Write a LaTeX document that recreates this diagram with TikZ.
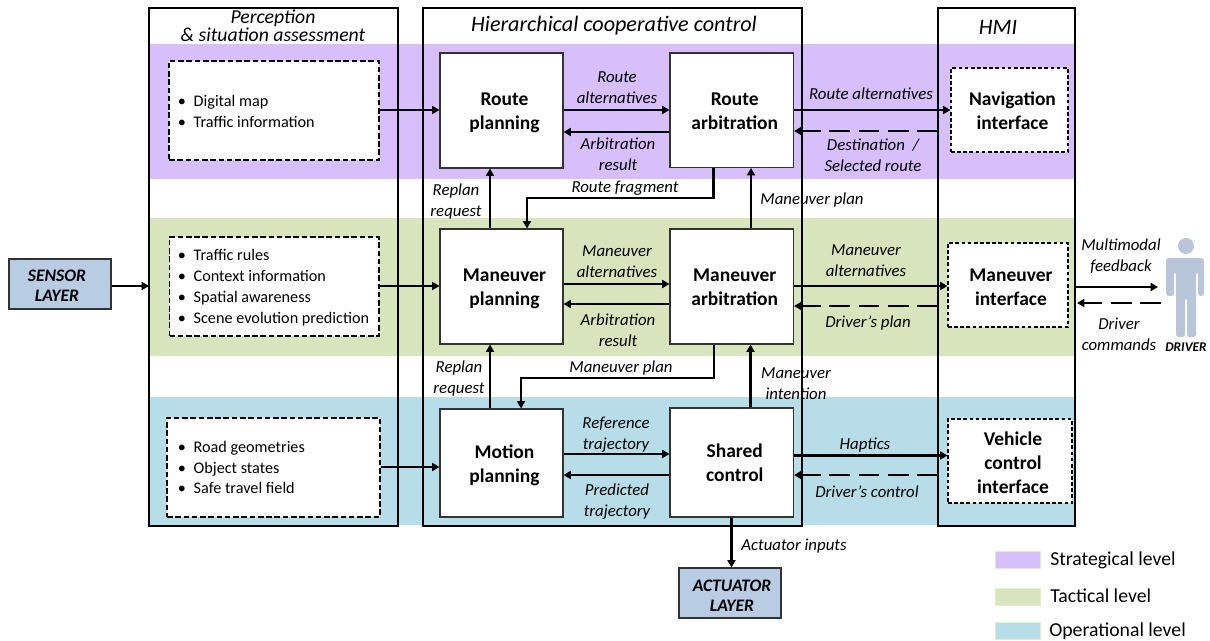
\documentclass[tikz,border=0pt]{standalone}
\usepackage{fontspec}
\setmainfont{Carlito}
\usetikzlibrary{arrows.meta}
\definecolor{purp}{HTML}{D7BFFB}
\definecolor{gree}{HTML}{D8E4BC}
\definecolor{blu}{HTML}{B7DDE8}
\definecolor{lay}{HTML}{B8CCE4}
\definecolor{drv}{HTML}{B9C5D9}
\tikzset{
 x=0.75pt,y=-0.75pt,
 band/.style={fill=#1,draw=none},
 panel/.style={draw=black,line width=1.5pt},
 solidbox/.style={draw=black!80,fill=white,line width=0.8pt,font=\fontsize{14.6}{18}\selectfont\bfseries,inner sep=0pt},
 dashbox/.style={solidbox,draw=black,line width=0.85pt,dash pattern=on 4.2pt off 2pt},
 dashboxs/.style={solidbox,draw=black,line width=0.85pt,dash pattern=on 2.8pt off 1.8pt},
 layerbox/.style={draw=black!80,fill=lay,line width=0.8pt,font=\fontsize{13.2}{15}\selectfont\bfseries\itshape,inner sep=0pt},
 arr/.style={draw=black,line width=1.75pt,-{Triangle[length=5.5pt,width=6pt]}},
 darr/.style={arr,dash pattern=on 15.5pt off 6.5pt},
 lab/.style={font=\fontsize{12.6}{15.75}\selectfont\itshape,align=center,inner sep=0pt},
 lst/.style={font=\fontsize{12.15}{15.7}\selectfont,align=left,inner sep=0pt,anchor=west},
 title/.style={font=\fontsize{16.6}{16}\selectfont\itshape,align=center,inner sep=0pt},
 subtitle/.style={font=\fontsize{14.8}{12}\selectfont\itshape,align=center,inner sep=0pt},
 legend/.style={font=\fontsize{14.8}{15}\selectfont,anchor=west,inner sep=0pt},
 swatch/.style={fill=#1,draw=gree!70,line width=0.5pt},
}
\newcommand{\bx}[6]{\node[#1,minimum width=#4*0.75pt-#2*0.75pt,minimum height=#5*0.75pt-#3*0.75pt] (#6) at ({(#2+#4)/2},{(#3+#5)/2})}
\newcommand{\mv}[3]{\raisebox{\dimexpr-2.5pt-0.75pt*#2\relax}[0pt][0pt]{\hspace*{\dimexpr 1.5pt*#1\relax}\begin{tabular}{@{}c@{}}#3\end{tabular}}}
\newcommand{\itm}[1]{\makebox[11.2pt][l]{\hspace{-0.6pt}•}#1}
\begin{document}
\begin{tikzpicture}
\useasboundingbox (0,0) rectangle (1210,641);
% bands
\fill[band=purp] (150,44) rectangle (1074,179);
\fill[band=gree] (150,218) rectangle (1074,356);
\fill[band=blu] (150,397) rectangle (1074,525);
% perception
\bx{dashbox}{169}{61}{379}{160}{p1} {};
\bx{dashbox}{169.5}{237}{379}{336}{p2} {};
\bx{dashbox}{167}{418}{380}{517}{p3} {};
\node[lst] (l1) at (178.5,111.5) {\itm{Digital map}\\\itm{Traffic information}};
\node[lst] (l2) at (178.5,288) {\itm{Traffic rules}\\\itm{Context information}\\\itm{Spatial awareness}\\\itm{Scene evolution prediction}};
\node[lst] (l3) at (178.5,467.5) {\itm{Road geometries}\\\itm{Object states}\\\itm{Safe travel field}};
% control
\bx{solidbox}{440}{53}{563}{168}{rp} {\mv{3}{4}{Route\\planning}};
\bx{solidbox}{670}{53}{793.5}{167.5}{ra} {\mv{3}{4}{Route\\arbitration}};
\bx{solidbox}{440}{229}{563}{344}{mp} {\mv{3}{4}{Maneuver\\planning}};
\bx{solidbox}{670}{229}{793.5}{344}{ma} {\mv{3}{4}{Maneuver\\arbitration}};
\bx{solidbox}{440}{409}{563}{517}{op} {\mv{3}{4}{Motion\\planning}};
\bx{solidbox}{670}{408}{793.5}{517}{sc} {\mv{3}{4}{Shared\\control}};
% hmi
\bx{dashboxs}{951}{68}{1068}{152}{ni} {\mv{3}{4}{Navigation\\interface}};
\bx{dashboxs}{948}{243}{1068}{327}{mi} {\mv{3}{5}{Maneuver\\interface}};
\bx{dashboxs}{948}{419}{1072}{503}{vi} {\mv{3}{5}{Vehicle\\control\\interface}};
% layers
\bx{layerbox}{9}{259}{111}{309}{sl} {\mv{-3}{4}{SENSOR\\LAYER}};
\bx{layerbox}{679}{568}{781}{618}{al} {\mv{2}{5}{ACTUATOR\\LAYER}};
% driver
\node[circle,fill=drv,minimum size=12pt,inner sep=0pt] (dh) at (1186,246) {};
\fill[drv,rounded corners=2pt] (1166,258) -- (1204,258) -- (1204,296) -- (1198,296) -- (1198,272) -- (1196,272) -- (1196,337) -- (1187,337) -- (1187,298) -- (1185,298) -- (1185,337) -- (1176,337) -- (1176,272) -- (1174,272) -- (1174,296) -- (1166,296) -- cycle;
\node[inner sep=0pt,font=\fontsize{10}{11}\selectfont\bfseries\itshape] (dl) at (1186,347) {DRIVER};
% labels
\node[lab] (a1) at (617,87.5) {Route\\alternatives};
\node[lab] (a2) at (618,154.5) {Arbitration\\result};
\node[lab] (a3) at (871,94) {Route alternatives};
\node[lab] (a4) at (873,155.5) {Destination~~/\\Selected route};
\node[lab] (a5) at (456,201.5) {Replan\\request};
\node[lab] (a6) at (625,188) {Route fragment};
\node[lab] (a7) at (812,200) {Maneuver plan};
\node[lab] (b1) at (617,262) {Maneuver\\alternatives};
\node[lab] (b2) at (618,330.5) {Arbitration\\result};
\node[lab] (b3) at (866,261) {Maneuver\\alternatives};
\node[lab] (b4) at (868,323) {Driver's plan};
\node[lab] (b5) at (1121,256) {Multimodal\\feedback};
\node[lab] (b6) at (1119,334) {Driver\\commands};
\node[lab] (c5) at (459,379) {Replan\\request};
\node[lab] (c6) at (621,368) {Maneuver plan};
\node[lab] (c7) at (796,384) {Maneuver\\intention};
\node[lab] (d1) at (616,435) {Reference\\trajectory};
\node[lab] (d2) at (617,502) {Predicted\\trajectory};
\node[lab] (d3) at (865,445) {Haptics};
\node[lab] (d4) at (867,492) {Driver's control};
\node[lab] (e1) at (794,546) {Actuator inputs};
% titles
\node[subtitle] (t1) at (273,25.5) {Perception\\\& situation assessment};
\node[title] (t2) at (614,26) {Hierarchical cooperative control};
\node[title] (t3) at (998,27) {HMI};
% arrows
\coordinate (pl) at (149,286);
\coordinate (hl) at (938,0);
\coordinate (dr) at (1158,287);
\coordinate (hr) at (1075,287);
\coordinate (drb) at (1161,303);
\coordinate (hrb) at (1077,303);
\draw[arr] (sl.east |- pl) -- (pl);
\draw[arr] (p1.east |- 0,110) -- (rp.west |- 0,110);
\draw[arr] (p2.east |- 0,286) -- (mp.west |- 0,286);
\draw[arr] (p3.east |- 0,467) -- (op.west |- 0,467);
\draw[arr] (rp.east |- 0,110) -- (ra.west |- 0,110);
\draw[arr] (ra.west |- 0,132) -- (rp.east |- 0,132);
\draw[arr] (ra.east |- 0,110) -- (ni.west |- 0,110);
\draw[darr] (hl |- 0,131) -- (ra.east |- 0,131);
\draw[arr] (mp.east |- 0,284) -- (ma.west |- 0,284);
\draw[arr] (ma.west |- 0,304) -- (mp.east |- 0,304);
\draw[arr] (ma.east |- 0,286) -- (mi.west |- 0,286);
\draw[darr] (hl |- 0,306) -- (ma.east |- 0,306);
\draw[arr] (op.east |- 0,454) -- (sc.west |- 0,454);
\draw[arr] (sc.west |- 0,475) -- (op.east |- 0,475);
\draw[arr] (sc.east |- 0,455.5) -- (vi.west |- 0,455.5);
\draw[darr] (hl |- 0,475) -- (sc.east |- 0,475);
\draw[arr] (mp.north -| 490,0) -- (rp.south -| 490,0);
\draw[arr] (op.north -| 490,0) -- (mp.south -| 490,0);
\draw[arr] (ma.north -| 751,0) -- (ra.south -| 751,0);
\draw[arr] (sc.north -| 750.5,0) -- (ma.south -| 750.5,0);
\draw[arr] (ra.south -| 713.5,0) -- (713.5,198) -- (527,198) -- (mp.north -| 527,0);
\draw[arr] (ma.south -| 714,0) -- (714,378) -- (521,378) -- (op.north -| 521,0);
\draw[arr] (sc.south -| 731.5,0) -- (al.north -| 731.5,0);
\draw[arr] (hr) -- (dr);
\draw[darr] (drb) -- (hrb);
% panels
\draw[panel] (149,8.5) rectangle (397.5,525.5);
\draw[panel] (423,8.5) rectangle (802,525.5);
\draw[panel] (938,8) rectangle (1075,525.5);
% legend
\fill[swatch=purp] (995,551) rectangle (1040,568);
\fill[swatch=gree] (995,588) rectangle (1040,605);
\fill[swatch=blu] (995,622) rectangle (1040,639);
\node[legend] (g1) at (1050,560) {Strategical level};
\node[legend] (g2) at (1050,596) {Tactical level};
\node[legend] (g3) at (1049,631) {Operational level};
\end{tikzpicture}
\end{document}
